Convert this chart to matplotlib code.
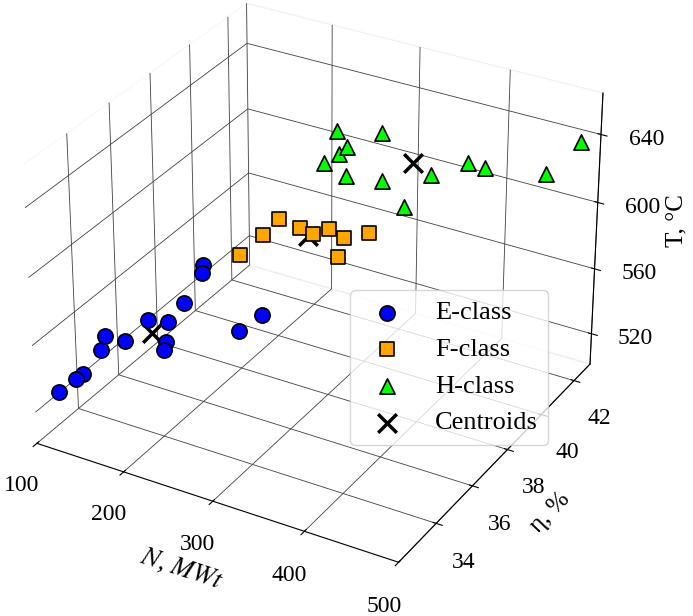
import numpy as np
import matplotlib
matplotlib.use('Agg')
import matplotlib.pyplot as plt

plt.rcParams['font.family'] = ['Liberation Serif', 'DejaVu Serif']
plt.rcParams['mathtext.fontset'] = 'stix'
plt.rcParams['font.size'] = 17
plt.rcParams['grid.color'] = '0.25'
plt.rcParams['grid.linewidth'] = 0.6

# E-class turbines: power N (MWt), efficiency eta (%), temperature T (C)
e_n = [103, 116, 120, 130, 130, 146, 161, 177, 181, 183, 180, 178, 173, 253, 268]
e_eta = [33.0, 33.3, 33.5, 34.0, 34.2, 34.5, 35.0, 35.3, 35.0, 34.8, 36.0, 37.0, 37.3, 35.5, 36.0]
e_t = [522, 529, 531, 542, 548, 545, 555, 553, 545, 542, 558, 566, 567, 558, 565]

# F-class
f_n = [211, 227, 234, 268, 283, 295, 313, 315, 333]
f_eta = [37.5, 38.0, 38.5, 38.0, 38.0, 38.3, 38.2, 37.8, 38.6]
f_t = [577, 587, 593, 597, 596, 598, 596, 589, 598]

# H-class
h_n = [278, 318, 290, 281, 274, 289, 319, 363, 394, 412, 469, 496, 343]
h_eta = [39.5, 40.0, 39.5, 39.5, 39.0, 39.5, 40.0, 40.5, 41.0, 41.0, 41.5, 42.0, 40.0]
h_t = [642, 642, 634, 629, 627, 617, 614, 619, 626, 626, 626, 644, 602]

# cluster centroids = class means
cent_n = [np.mean(e_n), np.mean(f_n), np.mean(h_n)]
cent_eta = [np.mean(e_eta), np.mean(f_eta), np.mean(h_eta)]
cent_t = [np.mean(e_t), np.mean(f_t), np.mean(h_t)]

fig = plt.figure(figsize=(6.93, 6.16), dpi=100)
ax = fig.add_axes([-0.052, 0.05, 1, 1], projection='3d', computed_zorder=False)

ax.scatter(cent_n, cent_eta, cent_t, c='k', marker='x', s=180,
           linewidths=2.5, depthshade=False, label='Centroids')
ax.scatter(e_n, e_eta, e_t, c='blue', marker='o', s=120, edgecolors='k',
           linewidths=1.2, depthshade=False, label='E-class')
ax.scatter(f_n, f_eta, f_t, c='orange', marker='s', s=110, edgecolors='k',
           linewidths=1.2, depthshade=False, label='F-class')
ax.scatter(h_n, h_eta, h_t, c='lime', marker='^', s=120, edgecolors='k',
           linewidths=1.2, depthshade=False, label='H-class')

ax.set_xlim(100, 500)
ax.set_ylim(32, 43)
ax.set_zlim(501, 664)
ax.set_xticks([100, 200, 300, 400, 500])
ax.set_yticks([34, 36, 38, 40, 42])
ax.set_zticks([520, 560, 600, 640])

ax.set_xlabel('$N$, $MWt$', labelpad=12, fontsize=19)
ax.set_ylabel('η, %', labelpad=12, fontsize=18)
ax.set_zlabel('T, °C', labelpad=13, fontsize=18)
ax.yaxis.set_rotate_label(True)
ax.zaxis.set_rotate_label(False)
ax.zaxis.label.set_rotation(90)
ax.tick_params(axis='x', pad=8)
ax.tick_params(axis='y', pad=9)
ax.tick_params(axis='z', pad=11)

for a in (ax.xaxis, ax.yaxis, ax.zaxis):
    a.pane.fill = False
ax.zaxis.set_ticks_position('upper')
ax.zaxis.set_label_position('upper')

ax.view_init(elev=30, azim=-60)
ax.set_box_aspect((4, 4, 3.06), zoom=1.05)

h, l = ax.get_legend_handles_labels()
order = [1, 2, 3, 0]
ax.legend([h[i] for i in order], [l[i] for i in order], loc='lower right',
          bbox_to_anchor=(0.791, 0.2776), bbox_transform=fig.transFigure,
          fontsize=19, borderaxespad=0)

fig.savefig('out.png', dpi=100)
